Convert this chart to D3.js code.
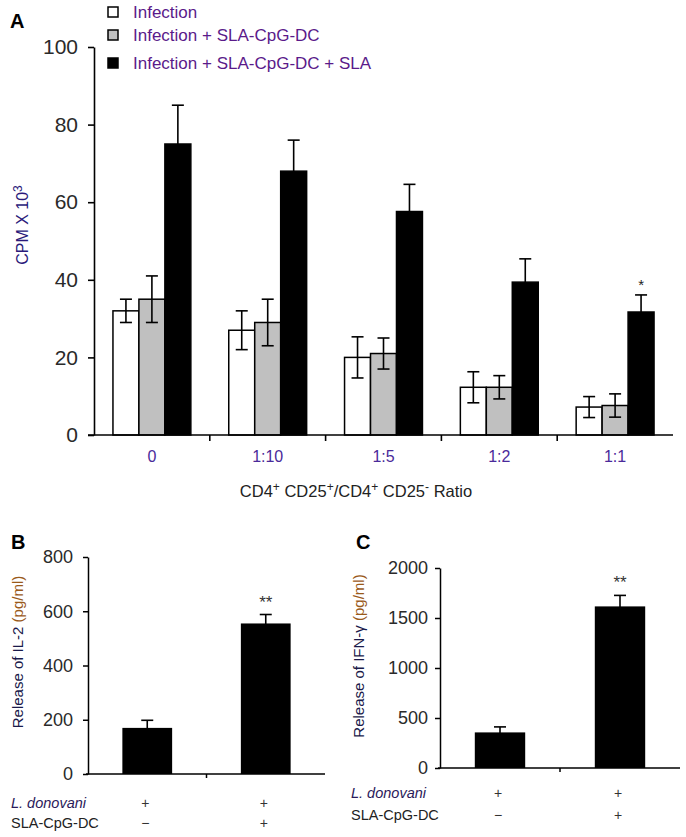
<!DOCTYPE html>
<html>
<head>
<meta charset="utf-8">
<script src="https://cdn.jsdelivr.net/npm/d3@7"></script>
<style>
  body { margin: 0; background: #fff; }
  text { font-family: "Liberation Sans", Arial, sans-serif; }
</style>
</head>
<body>
<svg id="fig" width="686" height="837"></svg>
<script>
// panel A data
var ratios = ["0", "1:10", "1:5", "1:2", "1:1"];
var seriesNames = ["Infection", "Infection + SLA-CpG-DC", "Infection + SLA-CpG-DC + SLA"];
var seriesFill = ["#ffffff", "#c0c0c0", "#000000"];
var infection = [32, 27, 20, 12.3, 7.2];
var infectionErr = [3, 5, 5.3, 4, 2.7];
var infDC = [35, 29, 21, 12.3, 7.6];
var infDCErr = [6, 6, 4, 3, 3];
var infDCSla = [75, 68, 57.6, 39.4, 31.7];
var infDCSlaErr = [10, 8, 7, 6, 4.4];
var yTicksA = [0, 20, 40, 60, 80, 100];

// panel B / C data
var groups = ["ctrl", "dc"];
var donovaniRow = ["+", "+"];
var dcRow = ["\u2212", "+"];
var il2 = [170, 555];
var il2Err = [28, 33];
var ifng = [356, 1616];
var ifngErr = [55, 110];
var yTicksB = [0, 200, 400, 600, 800];
var yTicksC = [0, 500, 1000, 1500, 2000];

var svg = d3.select("#fig");
svg.append("rect").attr("width", 686).attr("height", 837).attr("fill", "#fff");

// ---------- panel A ----------
var yA = d3.scaleLinear().domain([0, 100]).range([435, 47]);
var x0 = d3.scaleBand().domain(ratios).range([94, 673]);
var x1 = d3.scaleBand().domain(seriesNames).range([0, x0.bandwidth()])
           .paddingInner(0).paddingOuter(0.73);

var seriesVals = [infection, infDC, infDCSla];
var seriesErrs = [infectionErr, infDCErr, infDCSlaErr];
var rowsA = [];
ratios.forEach(function(r, i) {
  seriesNames.forEach(function(s, j) {
    rowsA.push({ratio: r, series: s, fill: seriesFill[j], v: seriesVals[j][i], e: seriesErrs[j][i]});
  });
});

var gA = svg.append("g");

gA.selectAll(".barA")
  .data(rowsA)
  .enter()
  .append("rect")
    .attr("x", d => x0(d.ratio) + x1(d.series))
    .attr("y", d => yA(d.v))
    .attr("width", x1.bandwidth())
    .attr("height", d => yA(0) - yA(d.v))
    .attr("fill", d => d.fill)
    .attr("stroke", "#000")
    .attr("stroke-width", 1.5);

function errorBars(g, rows, xc, y, cap) {
  var eb = g.selectAll(null).data(rows).enter().append("g")
            .attr("stroke", "#000").attr("stroke-width", 1.6);
  eb.append("line")
    .attr("x1", xc).attr("x2", xc)
    .attr("y1", d => y(d.v - d.e)).attr("y2", d => y(d.v + d.e));
  eb.append("line")
    .attr("x1", d => xc(d) - cap).attr("x2", d => xc(d) + cap)
    .attr("y1", d => y(d.v + d.e)).attr("y2", d => y(d.v + d.e));
  eb.append("line")
    .attr("x1", d => xc(d) - cap).attr("x2", d => xc(d) + cap)
    .attr("y1", d => y(d.v - d.e)).attr("y2", d => y(d.v - d.e));
}

errorBars(gA, rowsA, d => x0(d.ratio) + x1(d.series) + x1.bandwidth() / 2, yA, 6);

// y axis A
gA.append("g")
  .attr("transform", "translate(94,0)")
  .call(d3.axisLeft(yA).tickValues(yTicksA).tickSize(6).tickSizeOuter(0).tickPadding(10))
  .call(g => g.select(".domain").attr("stroke-width", 1.6))
  .call(g => g.selectAll(".tick line").attr("stroke-width", 1.6))
  .call(g => g.selectAll("text").attr("font-size", 21).attr("fill", "#2a2a2a")
                .attr("font-family", "Liberation Sans, Arial, sans-serif"));

// x axis A: line with ticks on group boundaries
gA.append("line").attr("x1", 88).attr("x2", 673).attr("y1", 435).attr("y2", 435)
  .attr("stroke", "#000").attr("stroke-width", 1.6);
gA.selectAll(".bnd")
  .data(ratios.slice(1))
  .enter().append("line")
    .attr("x1", d => x0(d)).attr("x2", d => x0(d))
    .attr("y1", 435).attr("y2", 441)
    .attr("stroke", "#000").attr("stroke-width", 1.6);
gA.selectAll(".xlab")
  .data(ratios)
  .enter().append("text")
    .attr("x", d => x0(d) + x0.bandwidth() / 2)
    .attr("y", 462)
    .attr("text-anchor", "middle")
    .attr("font-size", 16)
    .attr("fill", "#4a2a9a")
    .text(d => d);

// significance star
gA.append("text")
  .attr("x", x0("1:1") + x1(seriesNames[2]) + x1.bandwidth() / 2)
  .attr("y", yA(infDCSla[4] + infDCSlaErr[4]) - 5)
  .attr("text-anchor", "middle").attr("font-size", 15).attr("fill", "#222")
  .text("*");

// x title A
var xt = gA.append("text").attr("x", 356).attr("y", 497).attr("text-anchor", "middle")
  .attr("font-size", 16.5).attr("fill", "#222");
xt.append("tspan").text("CD4");
xt.append("tspan").attr("dy", -6).attr("font-size", 12).text("+");
xt.append("tspan").attr("dy", 6).text(" CD25");
xt.append("tspan").attr("dy", -6).attr("font-size", 12).text("+");
xt.append("tspan").attr("dy", 6).text("/CD4");
xt.append("tspan").attr("dy", -6).attr("font-size", 12).text("+");
xt.append("tspan").attr("dy", 6).text(" CD25");
xt.append("tspan").attr("dy", -6).attr("font-size", 12).text("-");
xt.append("tspan").attr("dy", 6).text(" Ratio");

// y title A
var yt = gA.append("text").attr("transform", "translate(28,225) rotate(-90)")
  .attr("text-anchor", "middle").attr("font-size", 16).attr("fill", "#2a1a7a");
yt.append("tspan").text("CPM X 10");
yt.append("tspan").attr("dy", -6).attr("font-size", 12).text("3");

// legend
var leg = gA.selectAll(".leg").data(seriesNames).enter().append("g")
  .attr("transform", (d, i) => "translate(108," + [12, 35, 63][i] + ")");
leg.append("rect").attr("x", 0).attr("y", -5).attr("width", 10).attr("height", 10)
  .attr("fill", (d, i) => seriesFill[i]).attr("stroke", "#000").attr("stroke-width", 1.5);
leg.append("text").attr("x", 25).attr("y", 6).attr("font-size", 17).attr("fill", "#5a1a8a")
  .text(d => d);

svg.append("text").attr("x", 10).attr("y", 28).attr("font-size", 20)
  .attr("font-weight", "bold").attr("fill", "#000").text("A");

// ---------- panels B and C ----------
function smallPanel(opt) {
  var g = svg.append("g");
  var y = d3.scaleLinear().domain([0, opt.max]).range([opt.y0, opt.y1]);
  var x = d3.scaleBand().domain(groups).range([opt.xl, opt.xr]);
  var bw = x.bandwidth() * 0.42;
  var rows = groups.map((k, i) => ({k: k, v: opt.vals[i], e: opt.errs[i]}));

  g.selectAll(".bar").data(rows).enter().append("rect")
    .attr("x", d => x(d.k) + (x.bandwidth() - bw) / 2)
    .attr("y", d => y(d.v))
    .attr("width", bw)
    .attr("height", d => y(0) - y(d.v))
    .attr("fill", "#000");

  errorBars(g, rows, d => x(d.k) + x.bandwidth() / 2, y, 6);

  g.append("g")
    .attr("transform", "translate(" + opt.xl + ",0)")
    .call(d3.axisLeft(y).tickValues(opt.ticks).tickFormat(d3.format("d"))
            .tickSize(5).tickSizeOuter(0).tickPadding(opt.pad))
    .call(a => a.select(".domain").attr("stroke-width", 1.5))
    .call(a => a.selectAll(".tick line").attr("stroke-width", 1.5))
    .call(a => a.selectAll("text").attr("font-size", 18).attr("fill", "#2a2a2a")
                  .attr("font-family", "Liberation Sans, Arial, sans-serif"));

  g.append("line").attr("x1", opt.xl - 2).attr("x2", opt.xr).attr("y1", opt.y0).attr("y2", opt.y0)
    .attr("stroke", "#000").attr("stroke-width", 1.5);
  g.append("line").attr("x1", x(groups[1])).attr("x2", x(groups[1]))
    .attr("y1", opt.y0).attr("y2", opt.y0 + 4)
    .attr("stroke", "#000").attr("stroke-width", 1.5);

  g.append("text")
    .attr("x", x(groups[1]) + x.bandwidth() / 2)
    .attr("y", y(opt.vals[1] + opt.errs[1]) - 7)
    .attr("text-anchor", "middle").attr("font-size", 17).attr("fill", "#333")
    .text("**");

  var t = g.append("text")
    .attr("transform", "translate(" + opt.labX + "," + opt.labY + ") rotate(-90)")
    .attr("text-anchor", "middle").attr("font-size", 15);
  t.append("tspan").attr("fill", "#1a1a4a").text(opt.label);
  t.append("tspan").attr("fill", "#9a5a1a").text(" (pg/ml)");

  g.append("text").attr("x", opt.rowX).attr("y", opt.row1).attr("font-size", 14.5)
    .attr("font-style", "italic").attr("fill", "#2a1a5a").text("L. donovani");
  g.append("text").attr("x", opt.rowX).attr("y", opt.row2).attr("font-size", 14.5)
    .attr("fill", "#222").text("SLA-CpG-DC");
  g.selectAll(".r1").data(donovaniRow).enter().append("text")
    .attr("x", (d, i) => x(groups[i]) + x.bandwidth() / 2 - 2)
    .attr("y", opt.row1).attr("text-anchor", "middle").attr("font-size", 14)
    .attr("fill", "#333").text(d => d);
  g.selectAll(".r2").data(dcRow).enter().append("text")
    .attr("x", (d, i) => x(groups[i]) + x.bandwidth() / 2 - 2)
    .attr("y", opt.row2).attr("text-anchor", "middle").attr("font-size", 14)
    .attr("fill", "#333").text(d => d);

  svg.append("text").attr("x", opt.letterX).attr("y", 549).attr("font-size", 20)
    .attr("font-weight", "bold").attr("fill", "#000").text(opt.letter);
}

smallPanel({
  letter: "B", letterX: 11, max: 800, y0: 774, y1: 557, xl: 88, xr: 325, pad: 10,
  vals: il2, errs: il2Err, ticks: yTicksB, label: "Release of IL-2",
  labX: 23, labY: 652, rowX: 11, row1: 808, row2: 828
});

smallPanel({
  letter: "C", letterX: 356, max: 2000, y0: 768, y1: 568, xl: 440, xr: 680, pad: 7,
  vals: ifng, errs: ifngErr, ticks: yTicksC, label: "Release of IFN-\u03b3",
  labX: 364, labY: 656, rowX: 351, row1: 798, row2: 820
});
</script>
</body>
</html>
